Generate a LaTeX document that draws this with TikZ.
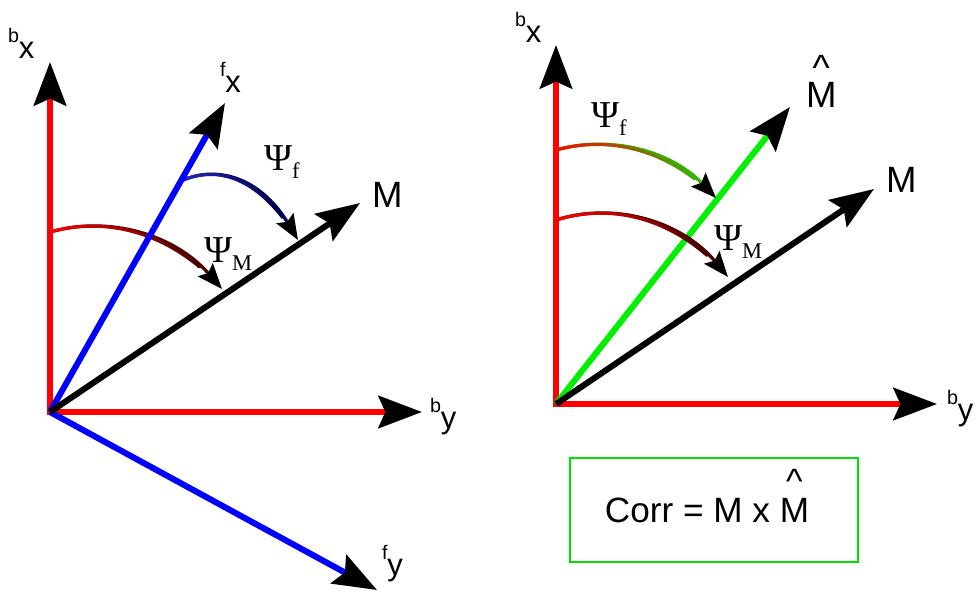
\documentclass[tikz,border=0pt]{standalone}
\usepackage{fontspec}
\setmainfont{Liberation Sans}
\newfontfamily\psifont{Liberation Serif}
\usetikzlibrary{arrows.meta}
\definecolor{axisred}{HTML}{FF0000}
\definecolor{frameblue}{HTML}{0000FF}
\definecolor{estgreen}{HTML}{00F000}
\definecolor{boxgreen}{HTML}{00E000}
\definecolor{psifstart}{HTML}{2828B8}
\definecolor{psifend}{HTML}{000050}
\definecolor{psimend}{HTML}{4A0000}
\definecolor{psigend}{HTML}{38B000}
\tikzset{
  every node/.style={inner sep=0pt, outer sep=0pt},
  axis/.style={line width=4.3pt,
    -{Stealth[length=31pt,width=23pt,inset=5pt,color=black]}},
  redaxis/.style={axis, draw=axisred, line cap=rect},
  arcline/.style={line width=2.3pt,
    -{Stealth[length=18pt,width=14pt,inset=3pt,color=black]}},
  arcseg/.style={line width=2.3pt, line cap=round},
  axlabel/.style={font=\fontsize{22}{22}\selectfont, anchor=base west},
  veclabel/.style={font=\fontsize{26}{26}\selectfont, anchor=base west},
  anglelabel/.style={anchor=base west},
  corrbox/.style={rectangle, draw=boxgreen, line width=2pt,
    minimum width=7.2cm, minimum height=2.6cm},
}
% superscript frame letter in front of an axis name
\newcommand\axlab[2]{{\fontsize{14}{14}\selectfont\raisebox{11pt}{#1}}#2}
\newcommand\psilab[1]{{\psifont\fontsize{27}{27}\selectfont
  Ψ\raisebox{-6pt}{\fontsize{16}{16}\selectfont #1}}}
\newcommand\hatM[1]{\shortstack{\textasciicircum\\[#1]M}}
% arc whose colour runs from #5 to #6, black tip at #4
\newcommand\gradarc[6]{%
  \draw[arcline, draw=#6] #1 .. controls #2 and #3 .. #4;
  \foreach \i in {1,...,20}{%
    \pgfmathsetmacro\ta{0.85*(\i-1)/20}%
    \pgfmathsetmacro\tb{0.85*\i/20}%
    \pgfmathtruncatemacro\mix{100-5*\i}%
    \path #1 .. controls #2 and #3 .. #4
      coordinate[pos=\ta] (ga) coordinate[pos=\tb] (gb);
    \draw[arcseg, draw=#5!\mix!#6] (ga) -- (gb);
  }%
}
\begin{document}
\begin{tikzpicture}[x=0.025cm, y=-0.025cm]
\useasboundingbox (0,0) rectangle (976,593);

% ---- body frame and fixed frame ---------------------------------------------
\coordinate (lo) at (50,412);
\coordinate (lbx) at (50,62);
\coordinate (lby) at (422,412);
\coordinate (lfx) at (225,103);
\coordinate (lfy) at (377,590);
\coordinate (lm) at (360,203);

\gradarc{(50,232)}{(110,215)}{(175,235)}{(222,289)}{axisred}{psimend}
\gradarc{(183,180)}{(225,163)}{(265,185)}{(298,240)}{psifstart}{psifend}

\draw[redaxis] (lo) -- (lbx);
\draw[redaxis] (lo) -- (lby);
\draw[axis, draw=frameblue] (lo) -- (lfx);
\draw[axis, draw=frameblue] (lo) -- (lfy);
\draw[axis, draw=black] (lo) -- (lm);

\node[axlabel] (lbxlab) at (8,58) {\axlab{b}{x}};
\node[axlabel] (lbylab) at (430,428) {\axlab{b}{y}};
\node[axlabel] (lfxlab) at (220,92) {\axlab{f}{x}};
\node[axlabel] (lfylab) at (382,575) {\axlab{f}{y}};
\node[veclabel] (lmlab) at (372,207) {M};
\node[anglelabel] (lpsif) at (264,170) {\psilab{f}};
\node[anglelabel] (lpsim) at (204,262) {\psilab{M}};

% ---- body frame and estimate ------------------------------------------------
\coordinate (ro) at (556,404);
\coordinate (rbx) at (556,45);
\coordinate (rby) at (937,404);
\coordinate (rmh) at (790,107);
\coordinate (rm) at (874,189);

\draw[redaxis] (ro) -- (rbx);
\draw[redaxis] (ro) -- (rby);
\draw[axis, draw=estgreen] (ro) -- (rmh);
\draw[axis, draw=black] (ro) -- (rm);

\gradarc{(556,150)}{(610,135)}{(670,150)}{(716,198)}{axisred}{psigend}
\gradarc{(556,220)}{(620,200)}{(685,225)}{(728,277)}{axisred}{psimend}

\node[axlabel] (rbxlab) at (515,42) {\axlab{b}{x}};
\node[axlabel] (rbylab) at (947,420) {\axlab{b}{y}};
\node[veclabel] (rmhlab) at (806,107) {\hatM{-2pt}};
\node[veclabel] (rmlab) at (886,192) {M};
\node[anglelabel] (rpsif) at (591,127) {\psilab{f}};
\node[anglelabel] (rpsim) at (714,250) {\psilab{M}};

\node[corrbox] (corr) at (714,510) {};
\node[anchor=base, font=\fontsize{25}{25}\selectfont] (corrtext) at (707,522)
  {Corr = M x \hatM{0pt}};

\end{tikzpicture}
\end{document}
